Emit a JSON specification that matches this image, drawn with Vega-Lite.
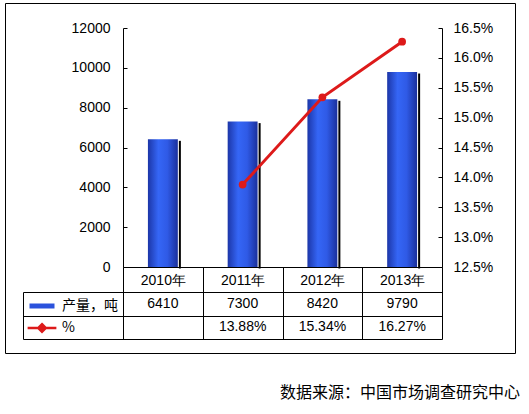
{
  "$schema": "https://vega.github.io/schema/vega-lite/v6.json",
  "width": 510,
  "height": 350,
  "autosize": {"type": "none"},
  "padding": {"left": 5, "top": 3, "right": 14, "bottom": 61},
  "background": "#ffffff",
  "title": {
    "text": "数据来源：中国市场调查研究中心",
    "orient": "bottom",
    "anchor": "end",
    "frame": "group",
    "offset": 32,
    "dx": 5,
    "font": "Noto Sans CJK SC",
    "fontSize": 16,
    "fontWeight": "normal",
    "color": "#000000"
  },
  "config": {
    "view": {"stroke": "#000000", "strokeWidth": 1},
    "axis": {
      "labelFont": "Liberation Sans",
      "labelFontSize": 14,
      "labelColor": "#000000",
      "domainColor": "#000000",
      "tickColor": "#000000",
      "grid": false,
      "title": null,
      "labelFlush": false,
      "labelOverlap": false
    }
  },
  "data": {
    "values": [
      {"年份": "2010年", "产量，吨": 6410, "%": null},
      {"年份": "2011年", "产量，吨": 7300, "%": 0.1388},
      {"年份": "2012年", "产量，吨": 8420, "%": 0.1534},
      {"年份": "2013年", "产量，吨": 9790, "%": 0.1627}
    ]
  },
  "encoding": {
    "x": {
      "field": "年份",
      "type": "ordinal",
      "sort": null,
      "scale": {"domain": ["2010年", "2011年", "2012年", "2013年"], "range": [118, 437], "paddingInner": 0, "paddingOuter": 0},
      "axis": {
        "orient": "bottom",
        "offset": -86,
        "title": null,
        "labelAngle": 0,
        "tickBand": "extent",
        "tickSize": 72,
        "labelPadding": -59,
        "labelBaseline": "middle",
        "labelFont": "Liberation Sans",
        "labelFontSize": 14
      }
    }
  },
  "layer": [
    {
      "encoding": {
        "y": {
          "field": "产量，吨",
          "type": "quantitative",
          "scale": {"domain": [0, 12000], "range": [264, 25], "nice": false, "zero": true},
          "axis": {
            "orient": "left",
            "offset": -118,
            "values": [0, 2000, 4000, 6000, 8000, 10000, 12000],
            "format": "d",
            "tickSize": -4,
            "labelPadding": 17
          }
        }
      },
      "layer": [
        {
          "mark": {"type": "bar", "color": "#000000", "width": 2, "xOffset": 17, "yOffset": 1.5}
        },
        {
          "mark": {
            "type": "bar",
            "width": {"band": 0.375},
            "color": {
              "gradient": "linear",
              "x1": 0, "x2": 1, "y1": 0, "y2": 0,
              "stops": [
                {"offset": 0, "color": "#1c36a8"},
                {"offset": 0.35, "color": "#3566f6"},
                {"offset": 0.65, "color": "#2f5ae6"},
                {"offset": 1, "color": "#1a309c"}
              ]
            }
          }
        }
      ]
    },
    {
      "mark": {
        "type": "line",
        "color": "#dd1a1a",
        "strokeWidth": 3,
        "point": {"filled": true, "size": 60, "color": "#dd1a1a"}
      },
      "encoding": {
        "y": {
          "field": "%",
          "type": "quantitative",
          "scale": {"domain": [0.125, 0.165], "range": [264, 25], "nice": false, "zero": false},
          "axis": {
            "orient": "right",
            "offset": -73,
            "values": [0.125, 0.13, 0.135, 0.14, 0.145, 0.15, 0.155, 0.16, 0.165],
            "format": ".1%",
            "tickSize": -4,
            "labelPadding": 15
          }
        }
      }
    },
    {
      "transform": [
        {"fold": ["产量，吨", "%"], "as": ["row", "val"]},
        {"filter": "datum.val != null"}
      ],
      "encoding": {
        "y": {
          "field": "row",
          "type": "nominal",
          "scale": {"domain": ["产量，吨", "%"], "range": [289, 336], "paddingInner": 0, "paddingOuter": 0},
          "axis": {
            "orient": "right",
            "offset": -492,
            "tickBand": "extent",
            "tickSize": 419,
            "labels": false,
            "title": null
          }
        }
      },
      "layer": [
        {
          "transform": [{"filter": "datum.row === '产量，吨'"}],
          "mark": {"type": "text", "font": "Liberation Sans", "fontSize": 14, "color": "#000000", "baseline": "middle", "align": "center"},
          "encoding": {"text": {"field": "val", "type": "quantitative", "format": "d"}}
        },
        {
          "transform": [{"filter": "datum.row === '%'"}],
          "mark": {"type": "text", "font": "Liberation Sans", "fontSize": 14, "color": "#000000", "baseline": "middle", "align": "center"},
          "encoding": {"text": {"field": "val", "type": "quantitative", "format": ".2%"}}
        }
      ]
    },
    {
      "transform": [
        {"fold": ["产量，吨", "%"], "as": ["row", "val"]}
      ],
      "mark": {"type": "point", "opacity": 0, "filled": true},
      "encoding": {
        "color": {
          "field": "row",
          "type": "nominal",
          "scale": {"domain": ["产量，吨", "%"], "range": ["#2b52dc", "#dd1a1a"]},
          "legend": {
            "orient": "none",
            "legendX": 23,
            "legendY": 289,
            "title": null,
            "padding": 0,
            "symbolSize": 625,
            "rowPadding": -1,
            "labelFont": "Noto Sans CJK SC",
            "labelFontSize": 14,
            "labelColor": "#000000",
            "labelOffset": 6,
            "symbolOpacity": 1,
            "encode": {
              "symbols": {
                "update": {
                  "shape": {"signal": "datum.value === '%' ? 'M-1.15,0H1.15M0,-0.3L0.3,0L0,0.3L-0.3,0Z' : 'M-1,-0.2H1V0.2H-1Z'"},
                  "fill": {"signal": "datum.value === '%' ? '#dd1a1a' : '#2b52dc'"},
                  "stroke": {"signal": "datum.value === '%' ? '#dd1a1a' : 'transparent'"},
                  "strokeWidth": {"value": 2.5},
                  "opacity": {"value": 1}
                }
              }
            }
          }
        }
      }
    }
  ],
  "resolve": {"scale": {"y": "independent"}, "axis": {"y": "independent"}}
}
